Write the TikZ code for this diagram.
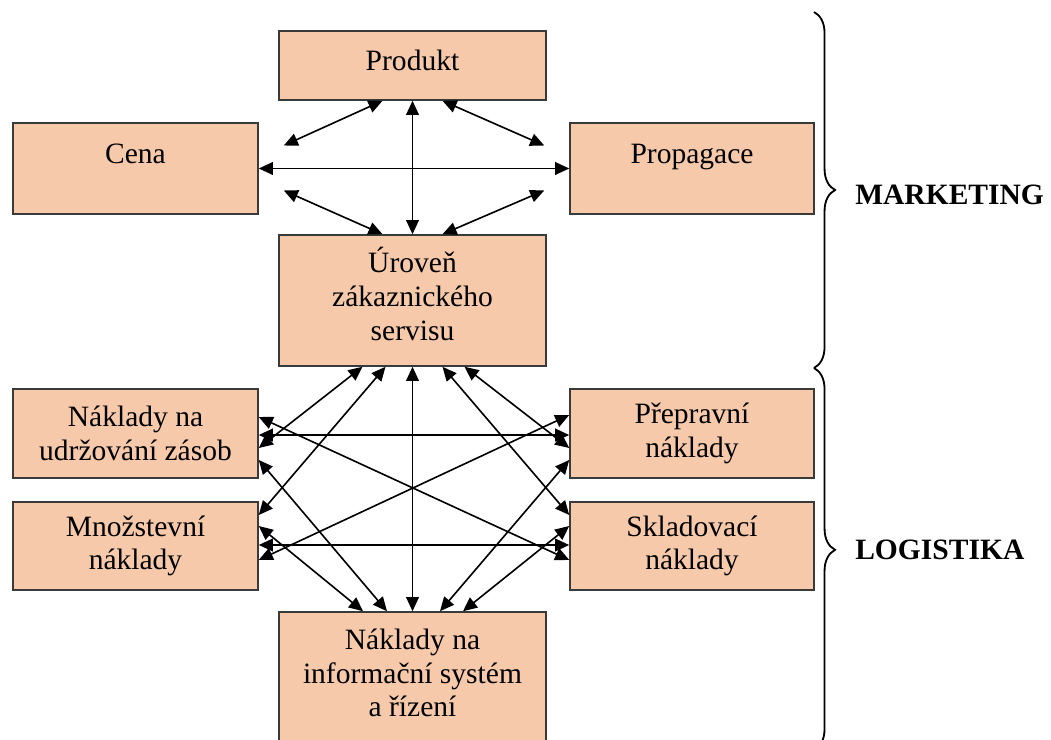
\documentclass[tikz,border=0pt]{standalone}
\usepackage{fontspec}
\setmainfont{Liberation Serif}
\usetikzlibrary{arrows.meta,calc,decorations.pathreplacing}
\definecolor{boxfill}{HTML}{F6C9AA}
\definecolor{boxline}{HTML}{3A3A3A}
\newcommand{\upby}[2]{\raisebox{#1}[\height][\depth]{#2}}
\begin{document}
\begin{tikzpicture}[x=0.025cm,y=-0.025cm,
  box/.style={draw=boxline,fill=boxfill,line width=1.1pt,inner sep=0pt,
    align=center,font=\fontsize{21}{24}\selectfont},
  txt/.style={inner sep=0pt,align=center,font=\fontsize{21}{24}\selectfont},
  con/.style={line width=1.15pt,{Triangle[length=10pt,width=9pt]}-{Triangle[length=10pt,width=9pt]}},
  lab/.style={inner sep=0pt,anchor=west,font=\fontsize{21}{24}\selectfont\bfseries},
  brc/.style={decorate,decoration={brace,amplitude=15pt,aspect=#1},line width=1.3pt}
]
\useasboundingbox (0,0) rectangle (1051,740);
% boxes
\node[box,minimum width=267*0.025cm,minimum height=69*0.025cm] (prod) at (412.5,65.5) {\upby{3.5pt}{Produkt}};
\node[box,minimum width=245*0.025cm,minimum height=91*0.025cm] (cena) at (135.5,168.5) {\upby{10.5pt}{Cena}};
\node[box,minimum width=244*0.025cm,minimum height=91*0.025cm] (prop) at (692,168.5) {\upby{8.5pt}{Propagace}};
\node[box,minimum width=267*0.025cm,minimum height=131*0.025cm] (uro) at (412.5,300.5) {\upby{1pt}{\begin{tabular}{@{}c@{}}Úroveň\\zákaznického\\servisu\end{tabular}}};
\node[box,minimum width=245*0.025cm,minimum height=89*0.025cm] (nuz) at (135.5,433.5) {Náklady na\\udržování zásob};
\node[box,minimum width=244*0.025cm,minimum height=89*0.025cm] (prep) at (692,433.5) {Přepravní\\náklady};
\node[box,minimum width=245*0.025cm,minimum height=88*0.025cm] (mn) at (135.5,546) {Množstevní\\náklady};
\node[box,minimum width=244*0.025cm,minimum height=88*0.025cm] (skl) at (692,546) {Skladovací\\náklady};
\node[box,minimum width=267*0.025cm,minimum height=150*0.025cm] (info) at (412.5,687) {};
\node[txt] (infotxt) at (412.5,673) {Náklady na\\informační systém\\a řízení};
% top connectors
\draw[con] (prod.south) -- (uro.north);
\draw[con] (cena.east) -- (prop.west);
\draw[con] ($(prod.south)+(-30,0)$) -- ($(cena.east)+(25,-23)$);
\draw[con] ($(prod.south)+(30,0)$) -- ($(prop.west)+(-25,-23)$);
\draw[con] ($(cena.east)+(25,22)$) -- ($(uro.north)+(-30,0)$);
\draw[con] ($(prop.west)+(-25,22)$) -- ($(uro.north)+(30,0)$);
% bottom connectors
\draw[con] ($(uro.south)+(-50,0)$) -- ($(nuz.east)+(0,14.5)$);
\draw[con] ($(uro.south)+(-27,0)$) -- ($(mn.east)+(0,-31)$);
\draw[con] (uro.south) -- (info.north);
\draw[con] ($(uro.south)+(30,0)$) -- ($(skl.west)+(0,-31)$);
\draw[con] ($(uro.south)+(52,0)$) -- ($(prep.west)+(0,14.5)$);
\draw[con] ($(nuz.east)+(0,1.5)$) -- ($(prep.west)+(0,1.5)$);
\draw[con] ($(mn.east)+(0,-1)$) -- ($(skl.west)+(0,-1)$);
\draw[con] ($(nuz.east)+(0,-16.5)$) -- ($(skl.west)+(0,14)$);
\draw[con] ($(prep.west)+(0,-18.5)$) -- ($(mn.east)+(0,14)$);
\draw[con] ($(nuz.east)+(0,26.5)$) -- ($(info.north)+(-25.5,0)$);
\draw[con] ($(mn.east)+(0,-20)$) -- ($(info.north)+(-49.5,0)$);
\draw[con] ($(prep.west)+(0,26.5)$) -- ($(info.north)+(27.5,0)$);
\draw[con] ($(skl.west)+(0,-20)$) -- ($(info.north)+(50.5,0)$);
% braces
\coordinate (b1) at (814,12);
\coordinate (b2) at (814,368);
\coordinate (b3) at (814,750);
\draw[brc=0.5] (b1) -- (b2);
\draw[brc=0.476] (b2) -- (b3);
\node[lab] (mkt) at (855,195) {MARKETING};
\node[lab] (log) at (855,550) {LOGISTIKA};
\end{tikzpicture}
\end{document}
